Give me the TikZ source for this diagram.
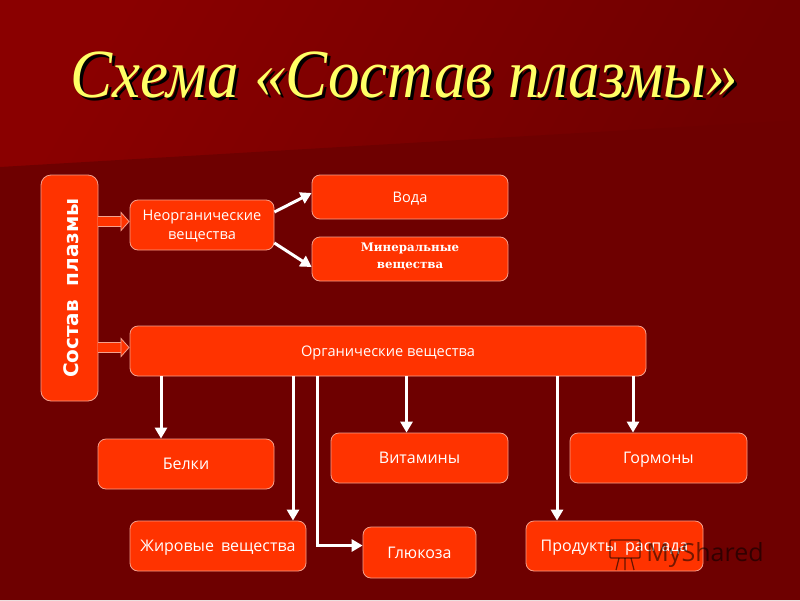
\documentclass[tikz,border=0pt]{standalone}
\usepackage{fontspec}
\usepackage{graphicx}
\usepackage{xcolor}
\setmainfont{Open Sans}
\newfontfamily\titlefont{Liberation Serif}
\newfontfamily\boxboldfont{DejaVu Sans}
\newfontfamily\minerfont{DejaVu Serif}
\usetikzlibrary{shapes,arrows.meta,positioning}
\definecolor{bgtop}{HTML}{8A0000}
\definecolor{bgright}{HTML}{700000}
\definecolor{bglow}{HTML}{6E0000}
\definecolor{boxfill}{HTML}{FF3300}
\definecolor{boxline}{HTML}{F5A08C}
\definecolor{titleyellow}{HTML}{FFFF66}

\begin{document}
\begin{tikzpicture}[
    x=1pt, y=-1pt,
    item/.style={rectangle, draw=boxline, fill=boxfill, text=white, align=center, rounded corners=8pt, line width=0.8pt, font=\fontsize{16}{20}\selectfont, inner sep=0pt, text height=11.4pt, text depth=0pt},
    smallitem/.style={item, font=\fontsize{14.6}{19}\selectfont, text height=10.4pt},
    twolines/.style={text height=29.4pt},
    arrow/.style={-{Triangle[length=11pt,width=12pt]}, line width=3pt, white},
    blockarrow/.style={-{Triangle[length=9pt,width=20pt,fill=boxfill,line width=0.8pt]}, draw=boxline, line width=0.8pt, double=boxfill, double distance=9pt},
    heading/.style={font=\titlefont\itshape\fontsize{69}{80}\selectfont, inner sep=0pt}
]
\useasboundingbox (0,0) rectangle (800,600);

% Background
\shade[left color=bgtop, right color=bgright, shading angle=60] (0,0) rectangle (800,200);
\fill[bglow] (0,167) -- (460,140) -- (800,120) -- (800,600) -- (0,600) -- cycle;

% Title
\node[heading, text=black] (titleshadow) at (407,78) {\scalebox{0.914}[1]{Схема «Состав плазмы»}};
\node[heading, text=titleyellow] (title) at (404,75) {\scalebox{0.914}[1]{Схема «Состав плазмы»}};

% Left column
\node[item, minimum width=57pt, minimum height=226pt, rounded corners=10pt] (sostav) at (69.5,288) {};
\node[rotate=90, text=white, inner sep=0pt, font=\boxboldfont\bfseries\fontsize{20}{24}\selectfont] (sostavtext) at (71,288) {Состав\ \ плазмы};

% Inorganic branch
\node[smallitem, twolines, minimum width=144pt, minimum height=50pt] (neorg) at (202,225) {Неорганические\\вещества};
\node[smallitem, minimum width=196pt, minimum height=44pt] (voda) at (410,197) {Вода};
\node[smallitem, minimum width=196pt, minimum height=44pt, font=\minerfont\bfseries\fontsize{11.8}{16.5}\selectfont, text height=18.6pt] (miner) at (410,259) {Минеральные\\вещества};

% Organic branch
\node[smallitem, minimum width=516pt, minimum height=50pt] (org) at (388,351) {Органические вещества};
\node[item, minimum width=176pt, minimum height=50pt] (belki) at (186,464) {Белки};
\node[item, minimum width=177pt, minimum height=50pt] (vitamin) at (419.5,458) {Витамины};
\node[item, minimum width=177pt, minimum height=50pt] (gormon) at (658.5,458) {Гормоны};
\node[item, minimum width=176pt, minimum height=50pt] (zhir) at (218,546) {Жировые\hspace{7pt}вещества};
\node[item, minimum width=113pt, minimum height=51pt] (gluk) at (419.5,552.5) {Глюкоза};
\node[item, minimum width=177pt, minimum height=50pt] (prod) at (614.5,546) {Продукты\hspace{8pt}распада};

% Block arrows
\coordinate (neorgin) at ([yshift=3.5pt]neorg.west);
\coordinate (orgin) at ([yshift=3.5pt]org.west);
\draw[blockarrow] (sostav.east |- neorgin) -- (neorgin);
\draw[blockarrow] (sostav.east |- orgin) -- (orgin);

% Inorganic arrows
\draw[arrow] ([yshift=13pt]neorg.east) -- ([yshift=4pt]voda.west);
\draw[arrow] ([yshift=-18pt]neorg.east) -- ([yshift=-8pt]miner.west);

% Organic arrows
\draw[arrow] ([xshift=-25pt]belki.north |- org.south) -- ([xshift=-25pt]belki.north);
\draw[arrow] ([xshift=75pt]zhir.north |- org.south) -- ([xshift=75pt]zhir.north);
\draw[arrow] ([xshift=-13pt]vitamin.north |- org.south) -- ([xshift=-13pt]vitamin.north);
\draw[arrow] ([xshift=-57.5pt]prod.north |- org.south) -- ([xshift=-57.5pt]prod.north);
\draw[arrow] ([xshift=-25.5pt]gormon.north |- org.south) -- ([xshift=-25.5pt]gormon.north);
\draw[arrow] ([xshift=-45pt]gluk.west |- org.south) |- ([yshift=7pt]gluk.west);

% Watermark
\node[text=black, opacity=0.55, inner sep=0pt, font=\fontsize{25}{30}\selectfont] (myshared) at (705,555) {MyShared};
\draw[black, opacity=0.6, line width=1.2pt, rounded corners=1pt] (610,540) rectangle (640,558);
\draw[black, opacity=0.6, line width=1.2pt] (619,558) -- (616,570) (631,558) -- (634,570) (625,558) -- (625,570);

\end{tikzpicture}
\end{document}
